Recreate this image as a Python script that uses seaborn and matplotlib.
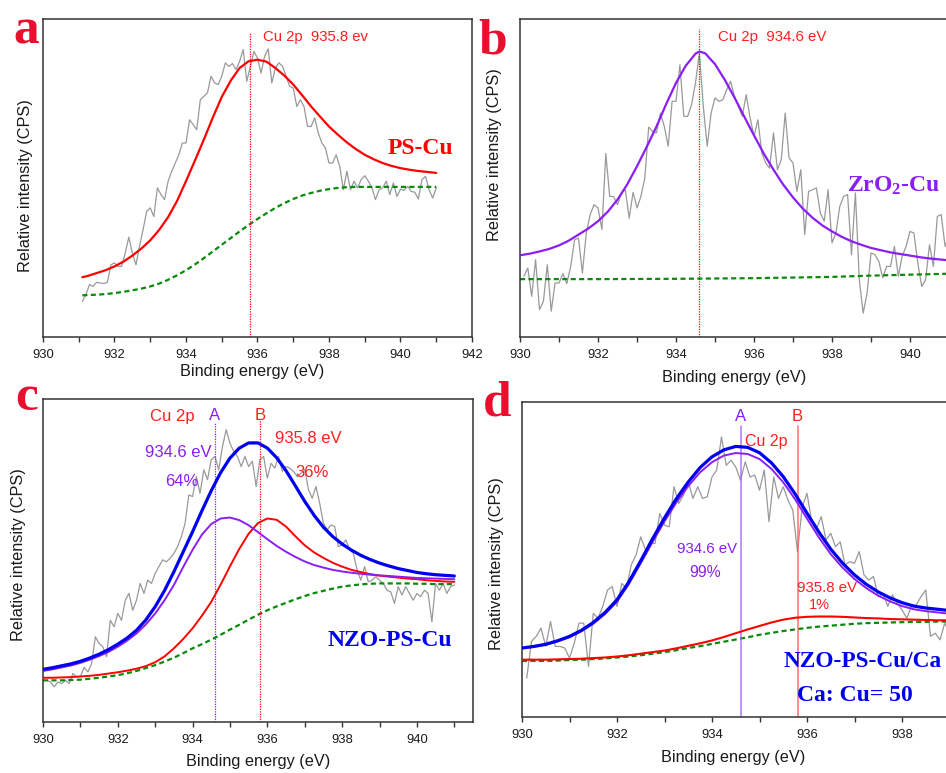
import numpy as np
import matplotlib
matplotlib.use("Agg")
import matplotlib.pyplot as plt
from matplotlib.ticker import MultipleLocator
import seaborn as sns

sns.set_theme(style="white")
plt.rcParams["font.family"] = ["Liberation Sans", "DejaVu Sans"]
plt.rcParams["mathtext.fontset"] = "custom"
plt.rcParams["mathtext.rm"] = "Liberation Serif:bold"
plt.rcParams["mathtext.it"] = "Liberation Serif:bold"
plt.rcParams["mathtext.bf"] = "Liberation Serif:bold"

# ---------------------------------------------------------------- data
RAW_STEP = 0.1   # eV, acquisition step of the raw Cu 2p spectra
FIT_STEP = 0.25  # eV, sampling step of the fitted curves

# (a) PS-Cu
a_raw_start = 931.1
a_raw = [11.2, 13.3, 16.5, 15.9, 17.2, 17.0, 16.8, 17.2, 22.7, 23.3,
         22.2, 22.2, 26.4, 31.4, 26.4, 22.7, 28.5, 33.8, 39.5, 40.6,
         37.9, 46.9, 44.8, 43.2, 49.0, 52.1, 54.7, 57.3, 61.0, 61.0,
         68.3, 66.8, 65.2, 74.6, 75.7, 76.8, 82.0, 79.9, 79.4, 82.0,
         86.2, 85.1, 86.0, 84.1, 86.7, 90.4, 80.4, 85.1, 89.8, 87.7,
         83.0, 88.3, 90.6, 79.9, 84.6, 86.2, 85.1, 82.0, 78.8, 78.3,
         72.5, 74.6, 72.5, 66.2, 66.2, 68.9, 64.2, 61.0, 59.4, 54.7,
         54.7, 57.3, 53.7, 46.3, 52.1, 46.3, 49.0, 46.9, 49.5, 50.7,
         49.0, 46.9, 43.2, 46.3, 46.9, 49.0, 44.8, 48.4, 44.2, 46.5,
         46.1, 47.4, 45.8, 45.5, 43.4, 49.5, 50.5, 46.3, 43.7, 46.9]
a_fit_e = [931.1, 931.25, 931.5, 931.75, 932.0, 932.25, 932.5, 932.75, 933.0, 933.25,
           933.5, 933.75, 934.0, 934.25, 934.5, 934.75, 935.0, 935.25, 935.5, 935.75,
           936.0, 936.25, 936.5, 936.75, 937.0, 937.25, 937.5, 937.75, 938.0, 938.25,
           938.5, 938.75, 939.0, 939.25, 939.5, 939.75, 940.0, 940.25, 940.5, 940.75,
           941.0]
a_fit = [18.8, 19.2, 20.1, 21.0, 22.2, 23.7, 25.6, 27.8, 30.4, 33.7,
         37.7, 42.8, 49.0, 55.5, 62.1, 69.0, 75.5, 80.6, 84.6, 86.7,
         87.2, 86.6, 84.6, 82.2, 79.4, 76.0, 72.5, 69.3, 66.2, 63.6,
         61.2, 59.1, 57.3, 55.9, 54.7, 53.8, 53.1, 52.6, 52.2, 51.9,
         51.6]
a_bg = [13.1, 13.2, 13.3, 13.5, 13.8, 14.2, 14.7, 15.2, 15.9, 16.8,
        18.0, 19.4, 21.0, 22.8, 24.8, 26.9, 29.0, 31.1, 33.2, 35.2,
        37.1, 38.9, 40.6, 42.1, 43.4, 44.5, 45.3, 46.0, 46.5, 46.9,
        47.1, 47.2, 47.2, 47.2, 47.2, 47.2, 47.2, 47.2, 47.2, 47.2,
        47.2]
a_peak = 935.8

# (b) ZrO2-Cu
b_raw_start = 930.1
b_raw = [19.1, 21.7, 12.8, 24.3, 8.6, 11.2, 22.7, 8.1, 17.0, 17.0,
         19.9, 16.8, 22.2, 30.6, 31.1, 20.1, 32.7, 38.5, 41.6, 40.6,
         33.8, 57.7, 44.2, 44.2, 41.6, 45.3, 46.3, 37.4, 45.5, 40.6,
         44.2, 50.0, 66.0, 64.7, 64.2, 70.4, 66.2, 60.0, 74.1, 74.1,
         85.6, 69.4, 69.4, 73.1, 79.9, 89.3, 72.5, 60.0, 70.4, 75.2,
         74.1, 74.6, 77.8, 80.4, 75.7, 72.5, 69.4, 76.2, 68.9, 63.1,
         68.3, 57.9, 54.7, 53.1, 64.2, 52.6, 55.8, 70.4, 56.3, 54.7,
         45.8, 52.6, 32.2, 45.8, 46.3, 46.9, 39.0, 36.4, 46.3, 29.6,
         32.7, 41.1, 44.2, 44.8, 25.9, 45.3, 18.0, 7.5, 13.8, 26.4,
         25.9, 23.8, 18.6, 22.2, 22.2, 28.5, 19.1, 25.4, 28.5, 33.2,
         32.7, 23.3, 15.9, 18.0, 29.0, 22.2, 37.9, 38.5, 28.5, 32.0]
b_fit_e = [930.0, 930.25, 930.5, 930.75, 931.0, 931.25, 931.5, 931.75, 932.0, 932.25,
           932.5, 932.75, 933.0, 933.25, 933.5, 933.75, 934.0, 934.25, 934.5, 934.6,
           934.75, 935.0, 935.25, 935.5, 935.75, 936.0, 936.25, 936.5, 936.75, 937.0,
           937.25, 937.5, 937.75, 938.0, 938.25, 938.5, 938.75, 939.0, 939.25, 939.5,
           939.75, 940.0, 940.25, 940.5, 940.75, 941.0]
b_fit = [25.7, 26.2, 26.9, 27.7, 28.8, 30.3, 32.2, 34.1, 36.4, 39.4,
         43.2, 48.0, 53.7, 59.8, 66.2, 73.3, 79.9, 85.3, 89.1, 89.8,
         89.2, 85.8, 80.9, 75.3, 69.3, 63.4, 57.7, 52.6, 47.9, 43.9,
         40.4, 37.5, 35.1, 33.2, 31.5, 30.1, 29.0, 28.0, 27.3, 26.6,
         26.1, 25.6, 25.1, 24.7, 24.4, 24.1]
b_bg_e = [930.0, 932.0, 934.0, 935.0, 936.0, 937.0, 938.0, 939.0, 940.0, 941.0]
b_bg = [18.2, 18.2, 18.3, 18.4, 18.5, 18.7, 18.9, 19.3, 19.6, 19.9]
b_peak = 934.6

# (c) NZO-PS-Cu
c_raw_start = 930.1
c_raw = [12.9, 12.4, 10.9, 12.4, 11.9, 12.9, 11.9, 15.0, 14.0, 14.0,
         16.9, 15.5, 18.1, 26.4, 24.3, 23.3, 20.2, 31.5, 29.5, 33.6,
         31.5, 37.7, 39.8, 34.6, 37.7, 42.9, 39.8, 43.9, 42.9, 46.0,
         48.1, 50.2, 49.6, 50.7, 52.2, 54.3, 57.4, 61.5, 70.3, 69.8,
         76.0, 70.8, 78.1, 75.0, 81.2, 82.2, 78.1, 85.3, 90.5, 86.3,
         83.8, 82.2, 79.1, 82.2, 79.1, 80.7, 72.9, 81.2, 82.2, 75.5,
         80.1, 78.6, 82.2, 77.6, 79.1, 78.6, 77.6, 76.0, 77.0, 78.1,
         71.9, 69.3, 72.9, 67.7, 61.5, 59.5, 61.0, 60.5, 54.3, 54.8,
         56.4, 53.3, 52.2, 47.1, 43.9, 48.1, 43.4, 43.9, 45.0, 43.9,
         42.9, 40.8, 40.3, 36.7, 41.9, 39.3, 41.9, 39.8, 37.7, 39.8,
         38.8, 40.8, 39.8, 31.0, 42.9, 40.8, 42.9, 39.8, 41.9, 42.4]
c_fit_start = 930.0
c_envelope = [16.3, 16.8, 17.4, 18.0, 18.8, 19.8, 21.0, 22.4, 24.1, 26.0,
              28.4, 31.6, 35.7, 40.7, 46.5, 52.7, 58.9, 65.4, 71.6, 77.2,
              81.7, 84.8, 86.4, 86.4, 84.8, 81.8, 77.8, 73.1, 68.3, 64.0,
              60.3, 57.4, 55.1, 53.2, 51.6, 50.3, 49.2, 48.3, 47.5, 46.9,
              46.3, 45.9, 45.6, 45.4, 45.2]
c_comp_a = [15.8, 16.3, 16.9, 17.5, 18.3, 19.3, 20.4, 21.7, 23.3, 25.2,
            27.4, 30.2, 33.6, 37.7, 42.4, 48.0, 53.3, 58.0, 61.3, 63.0,
            63.3, 62.5, 60.9, 58.8, 56.6, 54.5, 52.7, 51.1, 49.7, 48.6,
            47.8, 47.1, 46.6, 46.2, 45.9, 45.6, 45.4, 45.2, 45.0, 44.8,
            44.6, 44.5, 44.4, 44.3, 44.2]
c_comp_b = [13.7, 13.7, 13.8, 13.9, 14.1, 14.3, 14.6, 15.0, 15.4, 15.9,
            16.5, 17.3, 18.5, 20.3, 22.8, 25.7, 29.0, 32.9, 37.2, 42.5,
            48.2, 53.6, 58.3, 61.6, 63.0, 62.6, 60.5, 57.5, 54.7, 52.5,
            50.8, 49.3, 48.1, 47.1, 46.4, 45.8, 45.3, 45.0, 44.7, 44.4,
            44.2, 43.9, 43.7, 43.5, 43.4]
c_bg = [12.9, 12.9, 12.9, 13.0, 13.1, 13.4, 13.7, 14.1, 14.5, 15.1,
        15.8, 16.7, 17.6, 18.7, 19.9, 21.3, 22.8, 24.1, 25.5, 27.0,
        28.6, 30.1, 31.7, 33.2, 34.6, 35.8, 36.9, 38.0, 39.0, 39.9,
        40.6, 41.3, 41.9, 42.3, 42.6, 42.8, 42.9, 42.9, 42.9, 42.9,
        42.8, 42.8, 42.7, 42.7, 42.7]
c_peaks = [934.6, 935.8]
c_shares = ["64%", "36%"]

# (d) NZO-PS-Cu/Ca, Ca:Cu = 50
d_raw_start = 930.1
d_raw = [12.4, 24.0, 25.6, 28.2, 22.4, 30.3, 22.4, 22.4, 21.9, 18.7,
         23.4, 29.8, 29.8, 16.1, 32.9, 31.4, 35.1, 40.3, 41.4, 35.1,
         42.4, 40.9, 48.3, 51.4, 57.2, 53.0, 55.1, 55.1, 64.6, 60.9,
         60.4, 73.1, 67.8, 70.4, 74.7, 69.4, 73.1, 69.4, 69.9, 76.2,
         78.4, 88.9, 79.9, 81.5, 79.4, 75.2, 81.0, 76.2, 76.8, 72.0,
         78.4, 62.0, 76.2, 69.4, 73.1, 68.8, 65.7, 52.5, 66.7, 71.0,
         62.0, 59.9, 63.6, 56.2, 58.3, 54.1, 55.6, 48.3, 49.3, 48.8,
         52.5, 45.1, 43.5, 44.6, 38.2, 39.3, 35.1, 38.8, 36.1, 34.0,
         31.4, 35.1, 35.6, 38.2, 40.3, 25.6, 26.6, 24.5, 29.8, 26.6,
         30.8, 32.9, 28.7, 29.3, 30.8]
d_fit_start = 930.0
d_envelope = [21.9, 22.4, 23.1, 24.2, 25.6, 27.5, 30.0, 33.2, 37.2, 42.9,
              49.6, 56.6, 63.2, 69.3, 74.6, 79.2, 82.6, 84.8, 85.9, 85.6,
              83.9, 80.7, 76.3, 70.8, 64.7, 58.7, 53.3, 48.8, 45.1, 42.1,
              39.7, 37.8, 36.3, 35.2, 34.6, 34.2, 33.8]
d_comp_a = [21.8, 22.3, 22.9, 24.0, 25.3, 27.2, 29.6, 32.7, 36.6, 42.2,
            48.8, 55.6, 62.1, 68.1, 73.3, 77.7, 80.9, 83.0, 83.8, 83.5,
            81.9, 78.8, 74.5, 69.1, 63.0, 57.0, 51.7, 47.4, 43.8, 40.9,
            38.5, 36.7, 35.2, 34.2, 33.6, 33.2, 32.8]
d_comp_b = [18.2, 18.2, 18.2, 18.3, 18.4, 18.5, 18.7, 18.9, 19.2, 19.6,
            20.1, 20.6, 21.1, 21.8, 22.6, 23.4, 24.3, 25.4, 26.6, 27.8,
            28.9, 30.0, 30.9, 31.5, 31.8, 31.9, 31.9, 31.8, 31.6, 31.4,
            31.3, 31.1, 31.0, 30.9, 30.8, 30.7, 30.7]
d_bg = [17.8, 17.8, 17.8, 17.9, 18.1, 18.2, 18.4, 18.6, 18.9, 19.2,
        19.6, 20.1, 20.6, 21.2, 21.9, 22.5, 23.2, 23.9, 24.6, 25.3,
        26.1, 26.7, 27.3, 27.8, 28.3, 28.7, 29.0, 29.3, 29.6, 29.8,
        29.9, 30.0, 30.1, 30.2, 30.2, 30.3, 30.3]
d_peaks = [934.6, 935.8]
d_shares = ["99%", "1%"]

# ---------------------------------------------------------------- style
RED = "#FF0000"
TXT_RED = "#FF1F1F"
PURPLE = "#8A1EF5"
BLUE = "#0000F0"
GREEN = "#0A8A0A"
GRAY = "#999999"
LETTER = "#EA0F2E"
SPINE = "#333333"
SERIF = ["Liberation Serif", "DejaVu Serif"]
BG_DASH = (0, (2.3, 1.5))
VDOT = (0, (1, 1))


def grid(start, step, values):
    return np.round(start + step * np.arange(len(values)), 2)


def curve(ax, x, y, color, lw, ls="-", z=2):
    sns.lineplot(x=x, y=y, ax=ax, color=color, linewidth=lw, linestyle=ls,
                 estimator=None, sort=False, errorbar=None, zorder=z)


def frame(ax, xmax, xlab_xy, ylab_xy):
    ax.set_xlim(930, xmax)
    ax.set_ylim(0, 100)
    ax.xaxis.set_major_locator(MultipleLocator(2))
    ax.xaxis.set_minor_locator(MultipleLocator(1))
    ax.set_yticks([])
    ax.tick_params(axis="x", which="both", direction="out", length=3.5, width=1.0,
                   color=SPINE, bottom=True, top=False, labelsize=9.4,
                   labelcolor="#1a1a1a", pad=5)
    for s in ax.spines.values():
        s.set_visible(True)
        s.set_color(SPINE)
        s.set_linewidth(1.1)
    ax.set_xlabel("Binding energy (eV)", fontsize=11.7, color="#1a1a1a")
    ax.set_ylabel("Relative intensity (CPS)", fontsize=11.7, color="#1a1a1a")
    ax.xaxis.set_label_coords(*xlab_xy)
    ax.yaxis.set_label_coords(*ylab_xy)
    ax.set_facecolor("white")


W, H = 946, 773
fig = plt.figure(figsize=(W / 100, H / 100), dpi=100)
fig.patch.set_facecolor("white")


def rect(left, top, right, bottom):
    return [left / W, 1 - bottom / H, (right - left) / W, (bottom - top) / H]


ax_a = fig.add_axes(rect(43, 19, 472, 337))
ax_b = fig.add_axes(rect(520, 19, 949, 337))
ax_c = fig.add_axes(rect(43, 399, 473, 722))
ax_d = fig.add_axes(rect(522, 402, 949.5, 717))

# ---------------------------------------------------------------- (a)
curve(ax_a, grid(a_raw_start, RAW_STEP, a_raw), a_raw, GRAY, 0.9, z=1)
curve(ax_a, a_fit_e, a_bg, GREEN, 1.6, BG_DASH)
curve(ax_a, a_fit_e, a_fit, RED, 1.6, z=3)
ax_a.axvline(a_peak, ymin=0, ymax=0.96, color=RED, lw=0.9, ls=VDOT)
ax_a.text(936.15, 94.3, f"Cu 2p  {a_peak} ev", color=TXT_RED, fontsize=10.7, va="center")
ax_a.text(939.65, 57.5, "PS-Cu", color=RED, fontsize=17, family=SERIF,
          fontweight="bold", va="baseline")
frame(ax_a, 942, (0.488, -0.085), (-0.024, 0.475))

# ---------------------------------------------------------------- (b)
curve(ax_b, grid(b_raw_start, RAW_STEP, b_raw), b_raw, GRAY, 0.9, z=1)
curve(ax_b, b_bg_e, b_bg, GREEN, 1.6, BG_DASH)
curve(ax_b, b_fit_e, b_fit, PURPLE, 1.6, z=3)
ax_b.axvline(b_peak, ymin=0, ymax=0.97, color=RED, lw=0.9, ls=VDOT)
ax_b.text(935.08, 94.2, f"Cu 2p  {b_peak} eV", color=TXT_RED, fontsize=10.8, va="center")
ax_b.text(938.38, 45.7, r"ZrO$_{2}$-Cu", color=PURPLE, fontsize=17, family=SERIF,
          fontweight="bold", va="baseline")
frame(ax_b, 941, (0.499, -0.104), (-0.043, 0.572))

# ---------------------------------------------------------------- (c)
c_fit_e = grid(c_fit_start, FIT_STEP, c_envelope)
curve(ax_c, grid(c_raw_start, RAW_STEP, c_raw), c_raw, GRAY, 0.9, z=1)
curve(ax_c, c_fit_e, c_bg, GREEN, 1.6, BG_DASH)
curve(ax_c, c_fit_e, c_comp_b, RED, 1.4, z=3)
curve(ax_c, c_fit_e, c_comp_a, PURPLE, 1.4, z=3)
curve(ax_c, c_fit_e, c_envelope, BLUE, 2.3, z=4)
ax_c.axvline(c_peaks[0], ymin=0, ymax=0.93, color=PURPLE, lw=0.9, ls=VDOT)
ax_c.axvline(c_peaks[1], ymin=0, ymax=0.935, color=RED, lw=0.9, ls=VDOT)
ax_c.text(932.87, 94.7, "Cu 2p", color=TXT_RED, fontsize=12, va="center")
ax_c.text(c_peaks[0], 94.9, "A", color=PURPLE, fontsize=12, ha="center", va="center")
ax_c.text(c_peaks[1], 94.9, "B", color=TXT_RED, fontsize=12, ha="center", va="center")
ax_c.text(932.73, 83.3, f"{c_peaks[0]} eV", color=PURPLE, fontsize=12, va="center")
ax_c.text(933.27, 74.6, c_shares[0], color=PURPLE, fontsize=12, va="center")
ax_c.text(936.21, 87.9, f"{c_peaks[1]} eV", color=TXT_RED, fontsize=12, va="center")
ax_c.text(936.75, 77.1, c_shares[1], color=TXT_RED, fontsize=12, va="center")
ax_c.text(937.62, 23.6, "NZO-PS-Cu", color=BLUE, fontsize=17, family=SERIF,
          fontweight="bold", va="baseline")
frame(ax_c, 941.5, (0.5, -0.100), (-0.040, 0.517))

# ---------------------------------------------------------------- (d)
d_fit_e = grid(d_fit_start, FIT_STEP, d_envelope)
curve(ax_d, grid(d_raw_start, RAW_STEP, d_raw), d_raw, GRAY, 0.9, z=1)
curve(ax_d, d_fit_e, d_bg, GREEN, 1.6, BG_DASH)
curve(ax_d, d_fit_e, d_comp_b, RED, 1.5, z=3)
curve(ax_d, d_fit_e, d_comp_a, PURPLE, 1.4, z=3)
curve(ax_d, d_fit_e, d_envelope, BLUE, 2.3, z=4)
ax_d.axvline(d_peaks[0], ymin=0, ymax=0.925, color="#A060FF", lw=1.1, alpha=0.85)
ax_d.axvline(d_peaks[1], ymin=0, ymax=0.925, color="#FF5A5A", lw=1.1, alpha=0.85)
ax_d.text(d_peaks[0], 95.4, "A", color=PURPLE, fontsize=12, ha="center", va="center")
ax_d.text(d_peaks[1], 95.4, "B", color=TXT_RED, fontsize=12, ha="center", va="center")
ax_d.text(934.69, 87.6, "Cu 2p", color=TXT_RED, fontsize=11.5, va="center")
ax_d.text(933.9, 53.3, f"{d_peaks[0]} eV", color=PURPLE, fontsize=10.8, ha="center", va="center")
ax_d.text(933.85, 46.0, d_shares[0], color=PURPLE, fontsize=11.3, ha="center", va="center")
ax_d.text(936.42, 41.0, f"{d_peaks[1]} eV", color=TXT_RED, fontsize=10.8, ha="center", va="center")
ax_d.text(936.27, 35.6, d_shares[1], color=TXT_RED, fontsize=10.5, ha="center", va="center")
ax_d.text(935.5, 16.0, "NZO-PS-Cu/Ca", color=BLUE, fontsize=16.8, family=SERIF,
          fontweight="bold", va="baseline")
ax_d.text(935.79, 5.1, "Ca: Cu= 50", color=BLUE, fontsize=17, family=SERIF,
          fontweight="bold", va="baseline")
frame(ax_d, 939, (0.4936, -0.106), (-0.041, 0.486))

# ---------------------------------------------------------------- panel letters
for letter, lx, ly in [("a", 13, 43), ("b", 478, 53), ("c", 15, 410), ("d", 483, 415)]:
    fig.text(lx / W, 1 - ly / H, letter, color=LETTER, fontsize=37, family=SERIF,
             fontweight="bold", ha="left", va="baseline")

fig.savefig("out.png", dpi=100, facecolor="white")
